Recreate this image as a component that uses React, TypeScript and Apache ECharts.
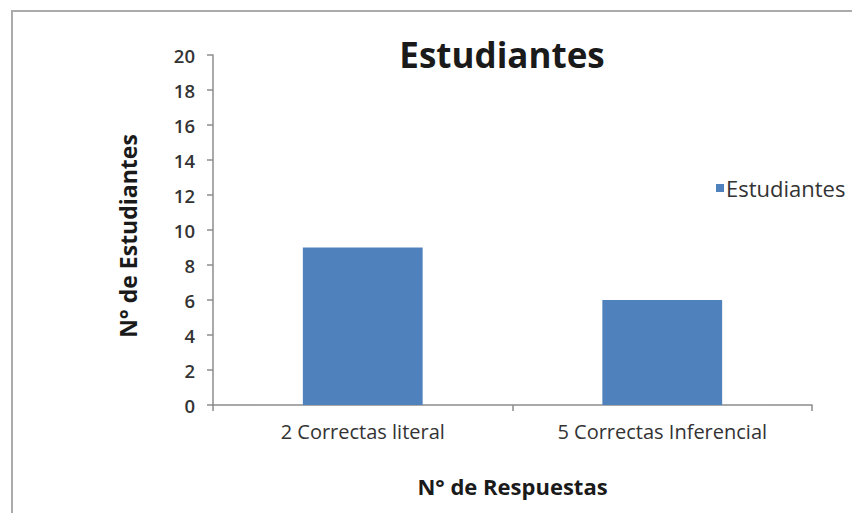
import React, { useEffect, useRef } from "react";
import * as echarts from "echarts";

const categories = ["2 Correctas literal", "5 Correctas Inferencial"];
const seriesName = "Estudiantes";
const values = [9, 6];
const titleText = "Estudiantes";
const yAxisName = "N° de Estudiantes";
const xAxisName = "N° de Respuestas";

const FONT = "'Open Sans', 'Noto Sans', sans-serif";

export default function App() {
  const ref = useRef<HTMLDivElement>(null);
  useEffect(() => {
    if (!ref.current) return;
    const chart = echarts.init(ref.current, null, { renderer: "svg" });
    chart.setOption({
      animation: false,
      backgroundColor: "#ffffff",
      title: {
        text: titleText,
        left: 497,
        textAlign: "center",
        top: 32,
        textStyle: { fontFamily: FONT, fontSize: 35, fontWeight: "bold", color: "#1a1a1a" },
      },
      legend: {
        data: [seriesName],
        left: 711,
        top: 172,
        itemWidth: 8,
        itemHeight: 8,
        itemGap: 4,
        icon: "rect",
        textStyle: { fontFamily: FONT, fontSize: 22, color: "#333", padding: [0, 0, 0, -3] },
      },
      grid: { left: 213, top: 55, right: 40, bottom: 108, containLabel: false },
      xAxis: {
        type: "category",
        data: categories,
        name: xAxisName,
        nameLocation: "middle",
        nameGap: 70,
        nameTextStyle: { fontFamily: FONT, fontSize: 22, fontWeight: "bold", color: "#1a1a1a" },
        axisLine: { lineStyle: { color: "#8c8c8c", width: 1.5 } },
        axisTick: { show: true, length: 6, alignWithLabel: false, lineStyle: { color: "#8c8c8c", width: 1.5 } },
        axisLabel: { fontFamily: FONT, fontSize: 20, color: "#333", margin: 16 },
      },
      yAxis: {
        type: "value",
        min: 0,
        max: 20,
        interval: 2,
        name: yAxisName,
        nameLocation: "middle",
        nameGap: 74,
        nameRotate: 90,
        nameTextStyle: { fontFamily: FONT, fontSize: 23, fontWeight: "bold", color: "#1a1a1a", padding: [0, 0, 0, -12] },
        axisLine: { show: true, lineStyle: { color: "#8c8c8c", width: 1.5 } },
        axisTick: { show: true, length: 6, lineStyle: { color: "#8c8c8c", width: 1.5 } },
        splitLine: { show: false },
        axisLabel: { fontFamily: FONT, fontSize: 18.5, fontWeight: 600, color: "#333", margin: 18 },
      },
      series: [
        {
          name: seriesName,
          type: "bar",
          data: values,
          barWidth: "40%",
          itemStyle: { color: "#4f81bd" },
        },
      ],
      graphic: [
        {
          type: "rect",
          shape: { x: 12, y: 11, width: 900, height: 600 },
          style: { fill: "none", stroke: "#ababab", lineWidth: 2 },
          silent: true,
        },
      ],
    });
    return () => chart.dispose();
  }, []);
  return <div ref={ref} style={{ width: 852, height: 513, position: "absolute", left: 0, top: 0 }} />;
}
